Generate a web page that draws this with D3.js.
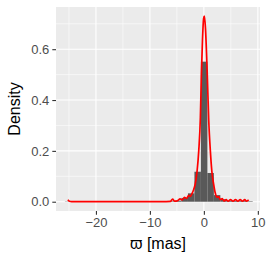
<!DOCTYPE html>
<html>
<head>
<meta charset="utf-8">
<script src="https://cdn.jsdelivr.net/npm/d3@7"></script>
<style>
  body { margin: 0; background: #fff; }
  text { font-family: "Liberation Sans", Arial, sans-serif; }
</style>
</head>
<body>
<div id="chart"></div>
<script>
// histograma (esquerda do bin, densidade)
const binLeft = [-25.75, -6.55, -5.35, -4.15, -2.95, -1.75, -0.55, 0.65, 1.85, 3.05, 4.25, 5.45, 6.65, 7.85];
const binDensity = [0.001, 0.002, 0.004, 0.015, 0.033, 0.118, 0.551, 0.113, 0.026, 0.01, 0.004, 0.003, 0.003, 0.002];
const binWidth = 1.2;

// curva de densidade
const densX = [-25.2, -24.9, -24.5, -7, -6.2, -5.8, -5.4, -4.9, -4.4, -4.0, -3.6, -3.2, -2.8, -2.5, -2.2, -1.9, -1.6, -1.26, -0.95, -0.65, -0.46, -0.25, -0.05, 0.1, 0.3, 0.6, 0.9, 1.2, 1.5, 1.8, 2.1, 2.4, 2.75, 3.05, 3.4, 3.75, 4.13, 4.5, 4.93, 5.4, 5.86, 6.3, 6.73, 7.15, 7.58, 7.9, 8.3];
const densY = [0.008, 0.002, 0.0005, 0.0005, 0.001, 0.01, 0.002, 0.004, 0.011, 0.007, 0.017, 0.013, 0.025, 0.021, 0.032, 0.047, 0.07, 0.12, 0.2, 0.33, 0.5, 0.64, 0.72, 0.73, 0.68, 0.52, 0.32, 0.2, 0.115, 0.07, 0.035, 0.018, 0.02, 0.008, 0.012, 0.003, 0.008, 0.002, 0.008, 0.002, 0.008, 0.002, 0.008, 0.002, 0.008, 0.002, 0.007];

const xTicks = [-20, -10, 0, 10];
const xTickLabels = ['\u221220', '\u221210', '0', '10'];
const xMinor = [-25, -15, -5, 5];
const yTicks = [0, 0.2, 0.4, 0.6];
const yTickLabels = ['0.0', '0.2', '0.4', '0.6'];
const yMinor = [0.1, 0.3, 0.5, 0.7];

const width = 266, height = 262;
const panel = { left: 56, right: 260, top: 7, bottom: 211 };

const svg = d3.select('#chart').append('svg')
  .attr('width', width)
  .attr('height', height);

const x = d3.scaleLinear().domain([-27.4, 10.4]).range([panel.left, panel.right]);
const y = d3.scaleLinear().domain([-0.0365, 0.766]).range([panel.bottom, panel.top]);

// fundo do painel
svg.append('rect')
  .attr('x', panel.left).attr('y', panel.top)
  .attr('width', panel.right - panel.left)
  .attr('height', panel.bottom - panel.top)
  .attr('fill', '#EBEBEB');

const grid = svg.append('g');
grid.selectAll('.xminor').data(xMinor).enter().append('line')
  .attr('x1', d => x(d)).attr('x2', d => x(d))
  .attr('y1', panel.top).attr('y2', panel.bottom)
  .attr('stroke', '#fff').attr('stroke-width', 0.55);
grid.selectAll('.yminor').data(yMinor).enter().append('line')
  .attr('y1', d => y(d)).attr('y2', d => y(d))
  .attr('x1', panel.left).attr('x2', panel.right)
  .attr('stroke', '#fff').attr('stroke-width', 0.55);
grid.selectAll('.xmajor').data(xTicks).enter().append('line')
  .attr('x1', d => x(d)).attr('x2', d => x(d))
  .attr('y1', panel.top).attr('y2', panel.bottom)
  .attr('stroke', '#fff').attr('stroke-width', 1.1);
grid.selectAll('.ymajor').data(yTicks).enter().append('line')
  .attr('y1', d => y(d)).attr('y2', d => y(d))
  .attr('x1', panel.left).attr('x2', panel.right)
  .attr('stroke', '#fff').attr('stroke-width', 1.1);

// barras
const bins = binLeft.map((l, i) => ({ l, d: binDensity[i] }));
svg.append('g').selectAll('rect').data(bins).enter().append('rect')
  .attr('x', d => x(d.l))
  .attr('width', d => x(d.l + binWidth) - x(d.l))
  .attr('y', d => y(d.d))
  .attr('height', d => y(0) - y(d.d))
  .attr('fill', '#595959');

// curva de densidade
const pts = densX.map((v, i) => [v, densY[i]]);
const line = d3.line()
  .x(d => x(d[0]))
  .y(d => y(d[1]))
  .curve(d3.curveMonotoneX);
svg.append('path')
  .datum(pts)
  .attr('d', line)
  .attr('fill', 'none')
  .attr('stroke', '#FF0000')
  .attr('stroke-width', 1.7)
  .attr('stroke-linejoin', 'round');

// eixos
const xAxis = svg.append('g')
  .attr('transform', `translate(0,${panel.bottom})`)
  .call(d3.axisBottom(x).tickValues(xTicks).tickFormat((d, i) => xTickLabels[i]).tickSize(3.7).tickPadding(3));
const yAxis = svg.append('g')
  .attr('transform', `translate(${panel.left},0)`)
  .call(d3.axisLeft(y).tickValues(yTicks).tickFormat((d, i) => yTickLabels[i]).tickSize(3.7).tickPadding(3));

[xAxis, yAxis].forEach(a => {
  a.select('.domain').remove();
  a.selectAll('.tick line').attr('stroke', '#333333').attr('stroke-width', 1.1);
  a.selectAll('.tick text')
    .attr('fill', '#4D4D4D')
    .style('font-size', '13px')
    .style('font-family', '"Liberation Sans", Arial, sans-serif');
});

// títulos
svg.append('text')
  .attr('x', (panel.left + panel.right) / 2)
  .attr('y', 249)
  .attr('text-anchor', 'middle')
  .style('font-size', '16px')
  .attr('fill', '#000')
  .text('\u03D6 [mas]');

svg.append('text')
  .attr('transform', `translate(20,${(panel.top + panel.bottom) / 2}) rotate(-90)`)
  .attr('text-anchor', 'middle')
  .style('font-size', '16px')
  .attr('fill', '#000')
  .text('Density');
</script>
</body>
</html>
